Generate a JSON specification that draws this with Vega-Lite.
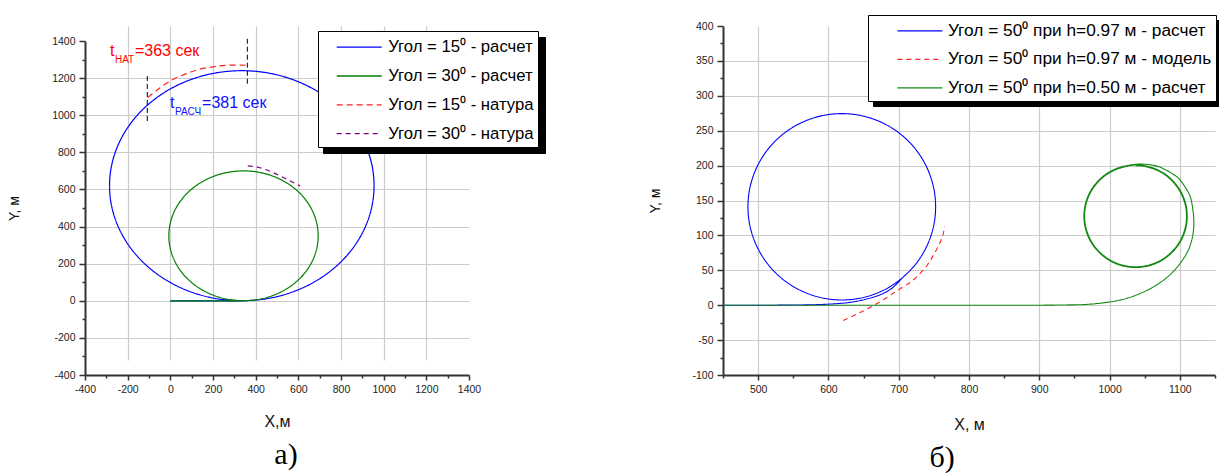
{
 "$schema": "https://vega.github.io/schema/vega-lite/v6.json",
 "padding": {"left": 7, "top": 14, "right": 0, "bottom": 0},
 "background": "white",
 "config": {
  "view": {"stroke": null},
  "font": "Liberation Sans",
  "axis": {"domainColor": "#333333", "domainWidth": 2, "tickColor": "#333333", "tickWidth": 1.5, "labelFont": "Liberation Sans", "labelFontSize": 10.5, "labelColor": "#222222", "labelPadding": 4, "titleFont": "Liberation Sans", "titleFontWeight": "normal", "titleColor": "#111111", "gridColor": "#cccccc", "gridWidth": 1.2, "labelOverlap": false, "labelFlush": false, "grid": true},
  "title": {"font": "Liberation Serif", "fontSize": 30, "fontWeight": "normal", "color": "#000000", "orient": "bottom", "anchor": "middle"}
 },
 "datasets": {
  "a": [
   {"s":"Угол = 15⁰ - расчет","i":0,"x":0,"y":0},{"s":"Угол = 15⁰ - расчет","i":1,"x":150,"y":0},{"s":"Угол = 15⁰ - расчет","i":2,"x":335,"y":0},{"s":"Угол = 15⁰ - расчет","i":3,"x":442.6,"y":9.4},{"s":"Угол = 15⁰ - расчет","i":4,"x":547,"y":37.4},{"s":"Угол = 15⁰ - расчет","i":5,"x":645,"y":83.1},{"s":"Угол = 15⁰ - расчет","i":6,"x":733.5,"y":145.1},{"s":"Угол = 15⁰ - расчет","i":7,"x":809.9,"y":221.5},{"s":"Угол = 15⁰ - расчет","i":8,"x":871.9,"y":310},{"s":"Угол = 15⁰ - расчет","i":9,"x":917.6,"y":408},{"s":"Угол = 15⁰ - расчет","i":10,"x":945.6,"y":512.4},{"s":"Угол = 15⁰ - расчет","i":11,"x":955,"y":620},{"s":"Угол = 15⁰ - расчет","i":12,"x":945.6,"y":727.6},{"s":"Угол = 15⁰ - расчет","i":13,"x":917.6,"y":832},{"s":"Угол = 15⁰ - расчет","i":14,"x":871.9,"y":930},{"s":"Угол = 15⁰ - расчет","i":15,"x":809.9,"y":1018.5},{"s":"Угол = 15⁰ - расчет","i":16,"x":733.5,"y":1094.9},{"s":"Угол = 15⁰ - расчет","i":17,"x":645,"y":1156.9},{"s":"Угол = 15⁰ - расчет","i":18,"x":547,"y":1202.6},{"s":"Угол = 15⁰ - расчет","i":19,"x":442.6,"y":1230.6},{"s":"Угол = 15⁰ - расчет","i":20,"x":335,"y":1240},{"s":"Угол = 15⁰ - расчет","i":21,"x":227.4,"y":1230.6},{"s":"Угол = 15⁰ - расчет","i":22,"x":123,"y":1202.6},{"s":"Угол = 15⁰ - расчет","i":23,"x":25,"y":1156.9},{"s":"Угол = 15⁰ - расчет","i":24,"x":-63.5,"y":1094.9},{"s":"Угол = 15⁰ - расчет","i":25,"x":-139.9,"y":1018.5},{"s":"Угол = 15⁰ - расчет","i":26,"x":-201.9,"y":930},{"s":"Угол = 15⁰ - расчет","i":27,"x":-247.6,"y":832},{"s":"Угол = 15⁰ - расчет","i":28,"x":-275.6,"y":727.6},{"s":"Угол = 15⁰ - расчет","i":29,"x":-285,"y":620},{"s":"Угол = 15⁰ - расчет","i":30,"x":-275.6,"y":512.4},{"s":"Угол = 15⁰ - расчет","i":31,"x":-247.6,"y":408},{"s":"Угол = 15⁰ - расчет","i":32,"x":-201.9,"y":310},{"s":"Угол = 15⁰ - расчет","i":33,"x":-139.9,"y":221.5},{"s":"Угол = 15⁰ - расчет","i":34,"x":-63.5,"y":145.1},{"s":"Угол = 15⁰ - расчет","i":35,"x":25,"y":83.1},{"s":"Угол = 15⁰ - расчет","i":36,"x":123,"y":37.4},{"s":"Угол = 15⁰ - расчет","i":37,"x":227.4,"y":9.4},{"s":"Угол = 15⁰ - расчет","i":38,"x":335,"y":0},
   {"s":"Угол = 30⁰ - расчет","i":0,"x":0,"y":0},{"s":"Угол = 30⁰ - расчет","i":1,"x":150,"y":0},{"s":"Угол = 30⁰ - расчет","i":2,"x":343,"y":0},{"s":"Угол = 30⁰ - расчет","i":3,"x":403.8,"y":5.3},{"s":"Угол = 30⁰ - расчет","i":4,"x":462.7,"y":21.1},{"s":"Угол = 30⁰ - расчет","i":5,"x":518,"y":46.9},{"s":"Угол = 30⁰ - расчет","i":6,"x":568,"y":81.9},{"s":"Угол = 30⁰ - расчет","i":7,"x":611.1,"y":125},{"s":"Угол = 30⁰ - расчет","i":8,"x":646.1,"y":175},{"s":"Угол = 30⁰ - расчет","i":9,"x":671.9,"y":230.3},{"s":"Угол = 30⁰ - расчет","i":10,"x":687.7,"y":289.2},{"s":"Угол = 30⁰ - расчет","i":11,"x":693,"y":350},{"s":"Угол = 30⁰ - расчет","i":12,"x":687.7,"y":410.8},{"s":"Угол = 30⁰ - расчет","i":13,"x":671.9,"y":469.7},{"s":"Угол = 30⁰ - расчет","i":14,"x":646.1,"y":525},{"s":"Угол = 30⁰ - расчет","i":15,"x":611.1,"y":575},{"s":"Угол = 30⁰ - расчет","i":16,"x":568,"y":618.1},{"s":"Угол = 30⁰ - расчет","i":17,"x":518,"y":653.1},{"s":"Угол = 30⁰ - расчет","i":18,"x":462.7,"y":678.9},{"s":"Угол = 30⁰ - расчет","i":19,"x":403.8,"y":694.7},{"s":"Угол = 30⁰ - расчет","i":20,"x":343,"y":700},{"s":"Угол = 30⁰ - расчет","i":21,"x":282.2,"y":694.7},{"s":"Угол = 30⁰ - расчет","i":22,"x":223.3,"y":678.9},{"s":"Угол = 30⁰ - расчет","i":23,"x":168,"y":653.1},{"s":"Угол = 30⁰ - расчет","i":24,"x":118,"y":618.1},{"s":"Угол = 30⁰ - расчет","i":25,"x":74.9,"y":575},{"s":"Угол = 30⁰ - расчет","i":26,"x":39.9,"y":525},{"s":"Угол = 30⁰ - расчет","i":27,"x":14.1,"y":469.7},{"s":"Угол = 30⁰ - расчет","i":28,"x":-1.7,"y":410.8},{"s":"Угол = 30⁰ - расчет","i":29,"x":-7,"y":350},{"s":"Угол = 30⁰ - расчет","i":30,"x":-1.7,"y":289.2},{"s":"Угол = 30⁰ - расчет","i":31,"x":14.1,"y":230.3},{"s":"Угол = 30⁰ - расчет","i":32,"x":39.9,"y":175},{"s":"Угол = 30⁰ - расчет","i":33,"x":74.9,"y":125},{"s":"Угол = 30⁰ - расчет","i":34,"x":118,"y":81.9},{"s":"Угол = 30⁰ - расчет","i":35,"x":168,"y":46.9},{"s":"Угол = 30⁰ - расчет","i":36,"x":223.3,"y":21.1},{"s":"Угол = 30⁰ - расчет","i":37,"x":282.2,"y":5.3},{"s":"Угол = 30⁰ - расчет","i":38,"x":343,"y":0},
   {"s":"Угол = 15⁰ - натура","i":0,"x":-106,"y":1095},{"s":"Угол = 15⁰ - натура","i":1,"x":-48,"y":1148},{"s":"Угол = 15⁰ - натура","i":2,"x":14,"y":1194},{"s":"Угол = 15⁰ - натура","i":3,"x":75,"y":1224},{"s":"Угол = 15⁰ - натура","i":4,"x":139,"y":1248},{"s":"Угол = 15⁰ - натура","i":5,"x":200,"y":1261},{"s":"Угол = 15⁰ - натура","i":6,"x":264,"y":1269},{"s":"Угол = 15⁰ - натура","i":7,"x":361,"y":1269},
   {"s":"Угол = 30⁰ - натура","i":0,"x":363,"y":727},{"s":"Угол = 30⁰ - натура","i":1,"x":420,"y":717},{"s":"Угол = 30⁰ - натура","i":2,"x":483,"y":690},{"s":"Угол = 30⁰ - натура","i":3,"x":546,"y":655},{"s":"Угол = 30⁰ - натура","i":4,"x":608,"y":619}
  ],
  "aMarks": [{"x":-108,"y":969,"y2":1211},{"x":361,"y":1170,"y2":1412}],
  "aText": [{"k":"nat","x":-283,"y":1319,"t":"t","sub":"НАТ","rest":"=363 сек"},{"k":"ras","x":-1,"y":1037,"t":"t","sub":"РАСЧ","rest":"=381 сек"}],
  "b": [
   {"s":"Угол = 50⁰ при h=0.97 м - расчет","i":0,"x":450,"y":0},{"s":"Угол = 50⁰ при h=0.97 м - расчет","i":1,"x":520,"y":0},{"s":"Угол = 50⁰ при h=0.97 м - расчет","i":2,"x":570,"y":0.5},{"s":"Угол = 50⁰ при h=0.97 м - расчет","i":3,"x":600,"y":1.5},{"s":"Угол = 50⁰ при h=0.97 м - расчет","i":4,"x":630,"y":4},{"s":"Угол = 50⁰ при h=0.97 м - расчет","i":5,"x":655,"y":9},{"s":"Угол = 50⁰ при h=0.97 м - расчет","i":6,"x":675,"y":15.5},{"s":"Угол = 50⁰ при h=0.97 м - расчет","i":7,"x":690,"y":24},{"s":"Угол = 50⁰ при h=0.97 м - расчет","i":8,"x":704.8,"y":38.7},{"s":"Угол = 50⁰ при h=0.97 м - расчет","i":9,"x":721.3,"y":55.2},{"s":"Угол = 50⁰ при h=0.97 м - расчет","i":10,"x":734.6,"y":74.3},{"s":"Угол = 50⁰ при h=0.97 м - расчет","i":11,"x":744.4,"y":95.3},{"s":"Угол = 50⁰ при h=0.97 м - расчет","i":12,"x":750.5,"y":117.8},{"s":"Угол = 50⁰ при h=0.97 м - расчет","i":13,"x":752.5,"y":141},{"s":"Угол = 50⁰ при h=0.97 м - расчет","i":14,"x":750.5,"y":164.2},{"s":"Угол = 50⁰ при h=0.97 м - расчет","i":15,"x":744.4,"y":186.7},{"s":"Угол = 50⁰ при h=0.97 м - расчет","i":16,"x":734.6,"y":207.8},{"s":"Угол = 50⁰ при h=0.97 м - расчет","i":17,"x":721.3,"y":226.8},{"s":"Угол = 50⁰ при h=0.97 м - расчет","i":18,"x":704.8,"y":243.3},{"s":"Угол = 50⁰ при h=0.97 м - расчет","i":19,"x":685.8,"y":256.6},{"s":"Угол = 50⁰ при h=0.97 м - расчет","i":20,"x":664.7,"y":266.4},{"s":"Угол = 50⁰ при h=0.97 м - расчет","i":21,"x":642.2,"y":272.5},{"s":"Угол = 50⁰ при h=0.97 м - расчет","i":22,"x":619,"y":274.5},{"s":"Угол = 50⁰ при h=0.97 м - расчет","i":23,"x":595.8,"y":272.5},{"s":"Угол = 50⁰ при h=0.97 м - расчет","i":24,"x":573.3,"y":266.4},{"s":"Угол = 50⁰ при h=0.97 м - расчет","i":25,"x":552.3,"y":256.6},{"s":"Угол = 50⁰ при h=0.97 м - расчет","i":26,"x":533.2,"y":243.3},{"s":"Угол = 50⁰ при h=0.97 м - расчет","i":27,"x":516.7,"y":226.8},{"s":"Угол = 50⁰ при h=0.97 м - расчет","i":28,"x":503.4,"y":207.8},{"s":"Угол = 50⁰ при h=0.97 м - расчет","i":29,"x":493.6,"y":186.7},{"s":"Угол = 50⁰ при h=0.97 м - расчет","i":30,"x":487.5,"y":164.2},{"s":"Угол = 50⁰ при h=0.97 м - расчет","i":31,"x":485.5,"y":141},{"s":"Угол = 50⁰ при h=0.97 м - расчет","i":32,"x":487.5,"y":117.8},{"s":"Угол = 50⁰ при h=0.97 м - расчет","i":33,"x":493.6,"y":95.3},{"s":"Угол = 50⁰ при h=0.97 м - расчет","i":34,"x":503.4,"y":74.3},{"s":"Угол = 50⁰ при h=0.97 м - расчет","i":35,"x":516.7,"y":55.2},{"s":"Угол = 50⁰ при h=0.97 м - расчет","i":36,"x":533.2,"y":38.7},{"s":"Угол = 50⁰ при h=0.97 м - расчет","i":37,"x":552.3,"y":25.4},{"s":"Угол = 50⁰ при h=0.97 м - расчет","i":38,"x":573.3,"y":15.6},{"s":"Угол = 50⁰ при h=0.97 м - расчет","i":39,"x":595.8,"y":9.5},{"s":"Угол = 50⁰ при h=0.97 м - расчет","i":40,"x":619,"y":7.5},{"s":"Угол = 50⁰ при h=0.97 м - расчет","i":41,"x":642.2,"y":9.5},{"s":"Угол = 50⁰ при h=0.97 м - расчет","i":42,"x":664.7,"y":15.6},{"s":"Угол = 50⁰ при h=0.97 м - расчет","i":43,"x":685.8,"y":25.4},{"s":"Угол = 50⁰ при h=0.97 м - расчет","i":44,"x":704.8,"y":38.7},
   {"s":"Угол = 50⁰ при h=0.97 м - модель","i":0,"x":621,"y":-22},{"s":"Угол = 50⁰ при h=0.97 м - модель","i":1,"x":640,"y":-13},{"s":"Угол = 50⁰ при h=0.97 м - модель","i":2,"x":656,"y":-5},{"s":"Угол = 50⁰ при h=0.97 м - модель","i":3,"x":680,"y":9},{"s":"Угол = 50⁰ при h=0.97 м - модель","i":4,"x":701,"y":23},{"s":"Угол = 50⁰ при h=0.97 м - модель","i":5,"x":718,"y":34},{"s":"Угол = 50⁰ при h=0.97 м - модель","i":6,"x":730,"y":45},{"s":"Угол = 50⁰ при h=0.97 м - модель","i":7,"x":741,"y":58},{"s":"Угол = 50⁰ при h=0.97 м - модель","i":8,"x":749,"y":71},{"s":"Угол = 50⁰ при h=0.97 м - модель","i":9,"x":756,"y":84},{"s":"Угол = 50⁰ при h=0.97 м - модель","i":10,"x":761,"y":95},{"s":"Угол = 50⁰ при h=0.97 м - модель","i":11,"x":764,"y":105},{"s":"Угол = 50⁰ при h=0.97 м - модель","i":12,"x":765,"y":113},
   {"s":"Угол = 50⁰ при h=0.50 м - расчет","i":0,"x":450,"y":0},{"s":"Угол = 50⁰ при h=0.50 м - расчет","i":1,"x":700,"y":0},{"s":"Угол = 50⁰ при h=0.50 м - расчет","i":2,"x":900,"y":0},{"s":"Угол = 50⁰ при h=0.50 м - расчет","i":3,"x":930,"y":0.3},{"s":"Угол = 50⁰ при h=0.50 м - расчет","i":4,"x":965,"y":1},{"s":"Угол = 50⁰ при h=0.50 м - расчет","i":5,"x":998,"y":4.3},{"s":"Угол = 50⁰ при h=0.50 м - расчет","i":6,"x":1025,"y":10},{"s":"Угол = 50⁰ при h=0.50 м - расчет","i":7,"x":1050.6,"y":20},{"s":"Угол = 50⁰ при h=0.50 м - расчет","i":8,"x":1070,"y":31},{"s":"Угол = 50⁰ при h=0.50 м - расчет","i":9,"x":1088.6,"y":46},{"s":"Угол = 50⁰ при h=0.50 м - расчет","i":10,"x":1102,"y":62},{"s":"Угол = 50⁰ при h=0.50 м - расчет","i":11,"x":1112.3,"y":79.5},{"s":"Угол = 50⁰ при h=0.50 м - расчет","i":12,"x":1118,"y":98},{"s":"Угол = 50⁰ при h=0.50 м - расчет","i":13,"x":1119.9,"y":117.6},{"s":"Угол = 50⁰ при h=0.50 м - расчет","i":14,"x":1118.5,"y":137},{"s":"Угол = 50⁰ при h=0.50 м - расчет","i":15,"x":1114.7,"y":155.7},{"s":"Угол = 50⁰ при h=0.50 м - расчет","i":16,"x":1107,"y":170},{"s":"Угол = 50⁰ при h=0.50 м - расчет","i":17,"x":1098,"y":182},{"s":"Угол = 50⁰ при h=0.50 м - расчет","i":18,"x":1085,"y":191},{"s":"Угол = 50⁰ при h=0.50 м - расчет","i":19,"x":1069.6,"y":198.6},{"s":"Угол = 50⁰ при h=0.50 м - расчет","i":20,"x":1055,"y":201.5},{"s":"Угол = 50⁰ при h=0.50 м - расчет","i":21,"x":1038.7,"y":202},
   {"s":"Угол = 50⁰ при h=0.50 м - расчет","i":22,"x":1024.2,"y":199.9},{"s":"Угол = 50⁰ при h=0.50 м - расчет","i":23,"x":1011.9,"y":196.6},{"s":"Угол = 50⁰ при h=0.50 м - расчет","i":24,"x":1000.3,"y":191.2},{"s":"Угол = 50⁰ при h=0.50 м - расчет","i":25,"x":989.8,"y":183.8},{"s":"Угол = 50⁰ при h=0.50 м - расчет","i":26,"x":980.7,"y":174.7},{"s":"Угол = 50⁰ при h=0.50 м - расчет","i":27,"x":973.3,"y":164.3},{"s":"Угол = 50⁰ при h=0.50 м - расчет","i":28,"x":967.9,"y":152.6},{"s":"Угол = 50⁰ при h=0.50 м - расчет","i":29,"x":964.6,"y":140.3},{"s":"Угол = 50⁰ при h=0.50 м - расчет","i":30,"x":963.5,"y":127.5},{"s":"Угол = 50⁰ при h=0.50 м - расчет","i":31,"x":964.6,"y":114.7},{"s":"Угол = 50⁰ при h=0.50 м - расчет","i":32,"x":967.9,"y":102.4},{"s":"Угол = 50⁰ при h=0.50 м - расчет","i":33,"x":973.3,"y":90.8},{"s":"Угол = 50⁰ при h=0.50 м - расчет","i":34,"x":980.7,"y":80.3},{"s":"Угол = 50⁰ при h=0.50 м - расчет","i":35,"x":989.8,"y":71.2},{"s":"Угол = 50⁰ при h=0.50 м - расчет","i":36,"x":1000.3,"y":63.8},{"s":"Угол = 50⁰ при h=0.50 м - расчет","i":37,"x":1011.9,"y":58.4},{"s":"Угол = 50⁰ при h=0.50 м - расчет","i":38,"x":1024.2,"y":55.1},{"s":"Угол = 50⁰ при h=0.50 м - расчет","i":39,"x":1037,"y":54},{"s":"Угол = 50⁰ при h=0.50 м - расчет","i":40,"x":1049.8,"y":55.1},{"s":"Угол = 50⁰ при h=0.50 м - расчет","i":41,"x":1062.1,"y":58.4},{"s":"Угол = 50⁰ при h=0.50 м - расчет","i":42,"x":1073.8,"y":63.8},{"s":"Угол = 50⁰ при h=0.50 м - расчет","i":43,"x":1084.2,"y":71.2},{"s":"Угол = 50⁰ при h=0.50 м - расчет","i":44,"x":1093.3,"y":80.3},{"s":"Угол = 50⁰ при h=0.50 м - расчет","i":45,"x":1100.7,"y":90.8},{"s":"Угол = 50⁰ при h=0.50 м - расчет","i":46,"x":1106.1,"y":102.4},{"s":"Угол = 50⁰ при h=0.50 м - расчет","i":47,"x":1109.4,"y":114.7},{"s":"Угол = 50⁰ при h=0.50 м - расчет","i":48,"x":1110.5,"y":127.5},{"s":"Угол = 50⁰ при h=0.50 м - расчет","i":49,"x":1109.4,"y":140.3},{"s":"Угол = 50⁰ при h=0.50 м - расчет","i":50,"x":1106.1,"y":152.6},{"s":"Угол = 50⁰ при h=0.50 м - расчет","i":51,"x":1100.7,"y":164.3},{"s":"Угол = 50⁰ при h=0.50 м - расчет","i":52,"x":1093.3,"y":174.7},{"s":"Угол = 50⁰ при h=0.50 м - расчет","i":53,"x":1084.2,"y":183.8},{"s":"Угол = 50⁰ при h=0.50 м - расчет","i":54,"x":1073.8,"y":191.2},{"s":"Угол = 50⁰ при h=0.50 м - расчет","i":55,"x":1062.1,"y":196.6},{"s":"Угол = 50⁰ при h=0.50 м - расчет","i":56,"x":1049.8,"y":199.9},{"s":"Угол = 50⁰ при h=0.50 м - расчет","i":57,"x":1037,"y":201},
   {"s":"Угол = 50⁰ при h=0.50 м - расчет","i":58,"x":1024.4,"y":198.9},{"s":"Угол = 50⁰ при h=0.50 м - расчет","i":59,"x":1012.2,"y":195.6},{"s":"Угол = 50⁰ при h=0.50 м - расчет","i":60,"x":1000.8,"y":190.3},{"s":"Угол = 50⁰ при h=0.50 м - расчет","i":61,"x":990.4,"y":183},{"s":"Угол = 50⁰ при h=0.50 м - расчет","i":62,"x":981.5,"y":174.1},{"s":"Угол = 50⁰ при h=0.50 м - расчет","i":63,"x":974.2,"y":163.8},{"s":"Угол = 50⁰ при h=0.50 м - расчет","i":64,"x":968.9,"y":152.3},{"s":"Угол = 50⁰ при h=0.50 м - расчет","i":65,"x":965.6,"y":140.1},{"s":"Угол = 50⁰ при h=0.50 м - расчет","i":66,"x":964.5,"y":127.5},{"s":"Угол = 50⁰ при h=0.50 м - расчет","i":67,"x":965.6,"y":114.9},{"s":"Угол = 50⁰ при h=0.50 м - расчет","i":68,"x":968.9,"y":102.7},{"s":"Угол = 50⁰ при h=0.50 м - расчет","i":69,"x":974.2,"y":91.3},{"s":"Угол = 50⁰ при h=0.50 м - расчет","i":70,"x":981.5,"y":80.9},{"s":"Угол = 50⁰ при h=0.50 м - расчет","i":71,"x":990.4,"y":72},{"s":"Угол = 50⁰ при h=0.50 м - расчет","i":72,"x":1000.8,"y":64.7},{"s":"Угол = 50⁰ при h=0.50 м - расчет","i":73,"x":1012.2,"y":59.4},{"s":"Угол = 50⁰ при h=0.50 м - расчет","i":74,"x":1024.4,"y":56.1},{"s":"Угол = 50⁰ при h=0.50 м - расчет","i":75,"x":1037,"y":55},{"s":"Угол = 50⁰ при h=0.50 м - расчет","i":76,"x":1049.6,"y":56.1},{"s":"Угол = 50⁰ при h=0.50 м - расчет","i":77,"x":1061.8,"y":59.4},{"s":"Угол = 50⁰ при h=0.50 м - расчет","i":78,"x":1073.3,"y":64.7},{"s":"Угол = 50⁰ при h=0.50 м - расчет","i":79,"x":1083.6,"y":72},{"s":"Угол = 50⁰ при h=0.50 м - расчет","i":80,"x":1092.5,"y":80.9},{"s":"Угол = 50⁰ при h=0.50 м - расчет","i":81,"x":1099.8,"y":91.3},{"s":"Угол = 50⁰ при h=0.50 м - расчет","i":82,"x":1105.1,"y":102.7},{"s":"Угол = 50⁰ при h=0.50 м - расчет","i":83,"x":1108.4,"y":114.9},{"s":"Угол = 50⁰ при h=0.50 м - расчет","i":84,"x":1109.5,"y":127.5},{"s":"Угол = 50⁰ при h=0.50 м - расчет","i":85,"x":1108.4,"y":140.1},{"s":"Угол = 50⁰ при h=0.50 м - расчет","i":86,"x":1105.1,"y":152.3},{"s":"Угол = 50⁰ при h=0.50 м - расчет","i":87,"x":1099.8,"y":163.8},{"s":"Угол = 50⁰ при h=0.50 м - расчет","i":88,"x":1092.5,"y":174.1},{"s":"Угол = 50⁰ при h=0.50 м - расчет","i":89,"x":1083.6,"y":183},{"s":"Угол = 50⁰ при h=0.50 м - расчет","i":90,"x":1073.3,"y":190.3},{"s":"Угол = 50⁰ при h=0.50 м - расчет","i":91,"x":1061.8,"y":195.6},{"s":"Угол = 50⁰ при h=0.50 м - расчет","i":92,"x":1049.6,"y":198.9},{"s":"Угол = 50⁰ при h=0.50 м - расчет","i":93,"x":1037,"y":200}
  ]
 },
 "bounds": "flush",
 "spacing": 254,
 "resolve": {"scale": {"color": "independent", "strokeDash": "independent", "opacity": "independent"}, "legend": {"color": "independent", "strokeDash": "independent", "opacity": "independent"}},
 "hconcat": [
  {
   "width": 384,
   "height": 349,
   "title": {"text": "а)", "dx": 9, "offset": 11},
   "encoding": {
    "x": {"field": "x", "type": "quantitative",
     "scale": {"domain": [-400, 1400], "nice": false, "zero": false},
     "axis": {"values": [-400,-300,-200,-100,0,100,200,300,400,500,600,700,800,900,1000,1100,1200,1300,1400],
      "title": "X,м", "titleFontSize": 16, "titleY": 51, "titleBaseline": "alphabetic", "grid": true, "labelOverlap": false,
      "labelExpr": "'' + datum.value",
      "tickSize": {"condition": {"test": "datum.value % 200 === 0", "value": 5}, "value": 3},
      "labelOpacity": {"condition": {"test": "datum.value % 200 === 0", "value": 1}, "value": 0},
      "gridOpacity": {"condition": {"test": "datum.value % 200 === 0 && datum.value > -400 && datum.value < 1400", "value": 1}, "value": 0}}},
    "y": {"field": "y", "type": "quantitative",
     "scale": {"domain": [-400, 1400], "range": [349, 15], "nice": false, "zero": false},
     "axis": {"values": [-400,-300,-200,-100,0,100,200,300,400,500,600,700,800,900,1000,1100,1200,1300,1400],
      "title": "Y, м", "titleFontSize": 14, "titleX": -64, "titleBaseline": "bottom", "grid": true, "labelOverlap": false,
      "labelExpr": "'' + datum.value",
      "tickSize": {"condition": {"test": "datum.value % 200 === 0", "value": 6}, "value": 3},
      "labelOpacity": {"condition": {"test": "datum.value % 200 === 0", "value": 1}, "value": 0},
      "gridOpacity": {"condition": {"test": "datum.value % 200 === 0 && datum.value > -400 && datum.value < 1400", "value": 1}, "value": 0}}}
   },
   "layer": [
    {
     "data": {"name": "a"},
     "mark": {"type": "line", "strokeWidth": 1.2, "interpolate": "catmull-rom"},
     "encoding": {
      "order": {"field": "i", "type": "quantitative"},
      "color": {"field": "s", "type": "nominal",
       "scale": {"domain": ["Угол = 15⁰ - расчет", "Угол = 30⁰ - расчет", "Угол = 15⁰ - натура", "Угол = 30⁰ - натура"], "range": ["#0000ff", "#008000", "#ff2020", "#800080"]},
       "legend": {"orient": "none", "legendX": 233, "legendY": 5, "zindex": 2, "title": null, "labelFont": "Liberation Sans", "labelFontSize": 16.7, "labelColor": "#000000", "labelLimit": 500, "symbolType": "M-2,0H2", "symbolSize": 506, "symbolStrokeWidth": 1.3, "symbolOffset": 25, "labelOffset": 17, "rowPadding": 7.8, "padding": 4.2, "strokeColor": "#000000", "fillColor": "#ffffff"}},
      "strokeDash": {"field": "s", "type": "nominal",
       "scale": {"domain": ["Угол = 15⁰ - расчет", "Угол = 30⁰ - расчет", "Угол = 15⁰ - натура", "Угол = 30⁰ - натура"], "range": [[1,0],[1,0],[6,4],[5,4]]},
       "legend": {"orient": "none", "legendX": 233, "legendY": 5, "zindex": 2, "title": null, "labelFont": "Liberation Sans", "labelFontSize": 16.7, "labelColor": "#000000", "labelLimit": 500, "symbolType": "M-2,0H2", "symbolSize": 506, "symbolStrokeWidth": 1.3, "symbolOffset": 25, "labelOffset": 17, "rowPadding": 7.8, "padding": 4.2, "strokeColor": "#000000", "fillColor": "#ffffff"}},
      "opacity": {"field": "s", "type": "ordinal",
       "scale": {"type": "ordinal", "domain": ["Угол = 30⁰ - натура", "Угол = 15⁰ - натура", "Угол = 30⁰ - расчет", "Угол = 15⁰ - расчет"], "range": [1, 1, 1, 1]},
       "legend": {"orient": "none", "legendX": 238, "legendY": 11, "zindex": 1, "title": null, "labelExpr": "''", "labelFont": "Liberation Sans", "labelFontSize": 16.7, "labelColor": "#000000", "labelLimit": 500, "symbolType": "M-2,0H2", "symbolSize": 506, "symbolStrokeWidth": 1.3, "symbolStrokeColor": "#000000", "symbolOffset": 25, "labelOffset": 164, "rowPadding": 7.8, "padding": 4.2, "strokeColor": "#000000", "fillColor": "#000000"}}
     }
    },
    {
     "data": {"name": "aMarks"},
     "mark": {"type": "rule", "color": "#000000", "strokeDash": [5, 3], "strokeWidth": 1},
     "encoding": {"y2": {"field": "y2"}}
    },
    {
     "data": {"name": "aText"}, "transform": [{"filter": "datum.k === 'nat'"}],
     "mark": {"type": "text", "align": "left", "baseline": "alphabetic", "fontSize": 16, "color": "#ff0000"},
     "encoding": {"text": {"field": "t"}}
    },
    {
     "data": {"name": "aText"}, "transform": [{"filter": "datum.k === 'nat'"}],
     "mark": {"type": "text", "align": "left", "baseline": "alphabetic", "fontSize": 10, "dx": 5, "dy": 7, "color": "#ff0000"},
     "encoding": {"text": {"field": "sub"}}
    },
    {
     "data": {"name": "aText"}, "transform": [{"filter": "datum.k === 'nat'"}],
     "mark": {"type": "text", "align": "left", "baseline": "alphabetic", "fontSize": 16, "dx": 25, "color": "#ff0000"},
     "encoding": {"text": {"field": "rest"}}
    },
    {
     "data": {"name": "aText"}, "transform": [{"filter": "datum.k === 'ras'"}],
     "mark": {"type": "text", "align": "left", "baseline": "alphabetic", "fontSize": 16, "color": "#1010ff"},
     "encoding": {"text": {"field": "t"}}
    },
    {
     "data": {"name": "aText"}, "transform": [{"filter": "datum.k === 'ras'"}],
     "mark": {"type": "text", "align": "left", "baseline": "alphabetic", "fontSize": 10, "dx": 5, "dy": 7, "color": "#1010ff"},
     "encoding": {"text": {"field": "sub"}}
    },
    {
     "data": {"name": "aText"}, "transform": [{"filter": "datum.k === 'ras'"}],
     "mark": {"type": "text", "align": "left", "baseline": "alphabetic", "fontSize": 16, "dx": 32, "color": "#1010ff"},
     "encoding": {"text": {"field": "rest"}}
    }
   ]
  },
  {
   "width": 492,
   "height": 349,
   "title": {"text": "б)", "dx": -27, "offset": 11},
   "data": {"name": "b"},
   "mark": {"type": "line", "strokeWidth": 1.1, "interpolate": "catmull-rom"},
   "encoding": {
    "x": {"field": "x", "type": "quantitative",
     "scale": {"domain": [450, 1150], "nice": false, "zero": false},
     "axis": {"values": [450,500,550,600,650,700,750,800,850,900,950,1000,1050,1100,1150],
      "title": "X, м", "titleFontSize": 16, "titleY": 54, "titleBaseline": "alphabetic", "grid": true, "labelOverlap": false,
      "labelExpr": "'' + datum.value",
      "tickSize": {"condition": {"test": "datum.value % 100 === 0", "value": 5}, "value": 3},
      "labelOpacity": {"condition": {"test": "datum.value % 100 === 0", "value": 1}, "value": 0},
      "gridOpacity": {"condition": {"test": "datum.value % 100 === 0", "value": 1}, "value": 0}}},
    "y": {"field": "y", "type": "quantitative",
     "scale": {"domain": [-100, 400], "nice": false, "zero": false},
     "axis": {"values": [-100,-75,-50,-25,0,25,50,75,100,125,150,175,200,225,250,275,300,325,350,375,400],
      "title": "Y, м", "titleFontSize": 14, "titleX": -61, "titleBaseline": "bottom", "grid": true, "labelOverlap": false,
      "labelExpr": "'' + datum.value",
      "tickSize": {"condition": {"test": "datum.value % 50 === 0", "value": 6}, "value": 3},
      "labelOpacity": {"condition": {"test": "datum.value % 50 === 0", "value": 1}, "value": 0},
      "gridOpacity": {"condition": {"test": "datum.value % 50 === 0 && datum.value > -100 && datum.value < 400", "value": 1}, "value": 0}}},
    "order": {"field": "i", "type": "quantitative"},
    "color": {"field": "s", "type": "nominal",
     "scale": {"domain": ["Угол = 50⁰ при h=0.97 м - расчет", "Угол = 50⁰ при h=0.97 м - модель", "Угол = 50⁰ при h=0.50 м - расчет"], "range": ["#0000ff", "#ff2020", "#138a13"]},
     "legend": {"orient": "none", "legendX": 145, "legendY": -11, "zindex": 2, "title": null, "labelFont": "Liberation Sans", "labelFontSize": 17.3, "labelColor": "#000000", "labelLimit": 600, "symbolType": "M-2,0H2", "symbolSize": 506, "symbolStrokeWidth": 1.3, "symbolOffset": 36, "labelOffset": 16, "rowPadding": 7.5, "padding": 3.9, "strokeColor": "#000000", "fillColor": "#ffffff",
      "encode": {"symbols": {"update": {"strokeDash": [{"test": "indexof(datum.value, 'модель') >= 0", "value": [2, 2]}, {"value": [1, 0]}]}}}}},
    "strokeDash": {"field": "s", "type": "nominal",
     "scale": {"domain": ["Угол = 50⁰ при h=0.97 м - расчет", "Угол = 50⁰ при h=0.97 м - модель", "Угол = 50⁰ при h=0.50 м - расчет"], "range": [[1,0],[5,4],[1,0]]},
     "legend": {"orient": "none", "legendX": 145, "legendY": -11, "zindex": 2, "title": null, "labelFont": "Liberation Sans", "labelFontSize": 17.3, "labelColor": "#000000", "labelLimit": 600, "symbolType": "M-2,0H2", "symbolSize": 506, "symbolStrokeWidth": 1.3, "symbolOffset": 36, "labelOffset": 16, "rowPadding": 7.5, "padding": 3.9, "strokeColor": "#000000", "fillColor": "#ffffff",
      "encode": {"symbols": {"update": {"strokeDash": [{"test": "indexof(datum.value, 'модель') >= 0", "value": [2, 2]}, {"value": [1, 0]}]}}}}},
    "opacity": {"field": "s", "type": "ordinal",
     "scale": {"type": "ordinal", "domain": ["Угол = 50⁰ при h=0.50 м - расчет", "Угол = 50⁰ при h=0.97 м - модель", "Угол = 50⁰ при h=0.97 м - расчет"], "range": [1, 1, 1]},
     "legend": {"orient": "none", "legendX": 150, "legendY": -6, "zindex": 1, "title": null, "labelExpr": "''", "labelFont": "Liberation Sans", "labelFontSize": 17.3, "labelColor": "#000000", "labelLimit": 600, "symbolType": "M-2,0H2", "symbolSize": 506, "symbolStrokeWidth": 1.3, "symbolStrokeColor": "#000000", "symbolOffset": 36, "labelOffset": 400, "rowPadding": 7.5, "padding": 3.9, "strokeColor": "#000000", "fillColor": "#000000"}}
   }
  }
 ]
}
